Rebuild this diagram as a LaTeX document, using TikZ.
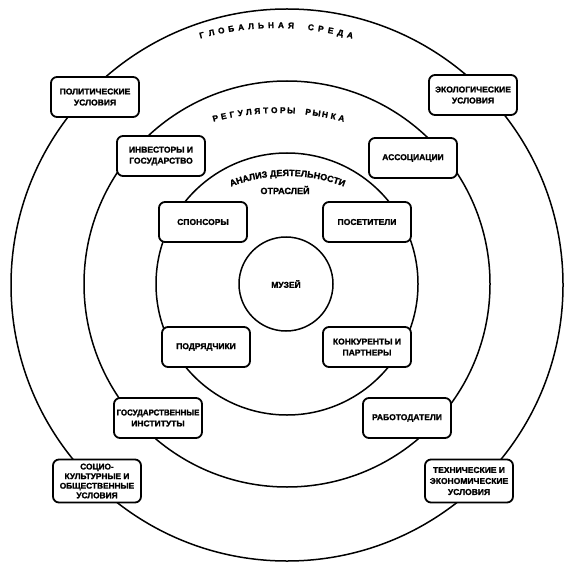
\documentclass[tikz,border=0pt]{standalone}
\usepackage{fontspec}
\setmainfont{Liberation Sans}[BoldFont={Liberation Sans Bold}]
\newfontfamily\heavy{Liberation Sans Bold}[FakeBold=1.6]
\usetikzlibrary{decorations.text}
\newcommand\boxfont{\heavy\fontsize{8.5}{11}\selectfont}
\newcommand\tightfont{\heavy\fontsize{8.3}{9.6}\selectfont}
\newcommand\arcfont{\heavy\fontsize{8.3}{9}\selectfont}
\newcommand\anfont{\heavy\fontsize{9}{10}\selectfont}
\newcommand\spacedarc[7]{%
  \foreach \ch [count=\i] in {#7} {%
    \pgfmathsetmacro\ang{90+((#5+1)/2-\i)*#4}%
    \node[letter,font=#6,rotate=\ang-90] at ({#1+#3*cos(\ang)},{#2-#3*sin(\ang)}) {\ch};
  }}
\begin{document}
\begin{tikzpicture}[x=1pt,y=-1pt,
  ring/.style={draw=black,line width=1.5pt},
  box/.style={draw=black,fill=white,line width=1.8pt,rounded corners=6pt,
    minimum width=88pt,minimum height=40pt,align=center,inner sep=1pt,font=\boxfont},
  letter/.style={inner sep=0pt,anchor=base}]
\useasboundingbox (0,0) rectangle (570,577);
\fill[white] (0,0) rectangle (570,577);
% rings
\draw[ring] (287,285) circle[radius=276pt];
\draw[ring] (287,284) circle[radius=203pt];
\draw[ring] (287,284) circle[radius=131pt];
\node[ring,circle,minimum size=94pt,inner sep=0pt,font=\boxfont] (muz) at (286,284) {МУЗЕЙ};
% curved titles
\spacedarc{276}{305}{277}{2.05}{16}{\arcfont}{Г,Л,О,Б,А,Л,Ь,Н,А,Я,{},С,Р,Е,Д,А}
\spacedarc{278.5}{360}{247}{1.95}{16}{\arcfont}{Р,Е,Г,У,Л,Я,Т,О,Р,Ы,{},Р,Ы,Н,К,А}
\path[decorate,decoration={text along path,text align=center,
  text={|\anfont|АНАЛИЗ ДЕЯТЕЛЬНОСТИ}}]
  ({287.5+155*cos(160)},{331-155*sin(160)}) arc[start angle=160,end angle=20,radius=155pt];
\node[font=\anfont,inner sep=0pt] (otr) at (285,190) {ОТРАСЛЕЙ};
% boxes
\node[box] (pol)    at (95,97)   {ПОЛИТИЧЕСКИЕ\\УСЛОВИЯ};
\node[box] (eco)    at (473,95)  {ЭКОЛОГИЧЕСКИЕ\\УСЛОВИЯ};
\node[box] (inv)    at (161,156) {ИНВЕСТОРЫ И\\ГОСУДАРСТВО};
\node[box] (assoc)  at (413,158) {АССОЦИАЦИИ};
\node[box] (spons)  at (203,222) {СПОНСОРЫ};
\node[box] (visit)  at (367,222) {ПОСЕТИТЕЛИ};
\node[box] (podr)   at (206,347) {ПОДРЯДЧИКИ};
\node[box] (konk)   at (367,347) {КОНКУРЕНТЫ И\\ПАРТНЕРЫ};
\node[box] (gos)    at (158,418) {\scalebox{0.93}[1]{ГОСУДАРСТВЕННЫЕ}\\ИНСТИТУТЫ};
\node[box] (rab)    at (407,418) {РАБОТОДАТЕЛИ};
\node[box,minimum height=43pt,font=\tightfont] (socio) at (97,481) {СОЦИО-\\КУЛЬТУРНЫЕ И\\ОБЩЕСТВЕННЫЕ\\УСЛОВИЯ};
\node[box,minimum height=43pt] (tech) at (469,481) {ТЕХНИЧЕСКИЕ И\\ЭКОНОМИЧЕСКИЕ\\УСЛОВИЯ};
\end{tikzpicture}
\end{document}
